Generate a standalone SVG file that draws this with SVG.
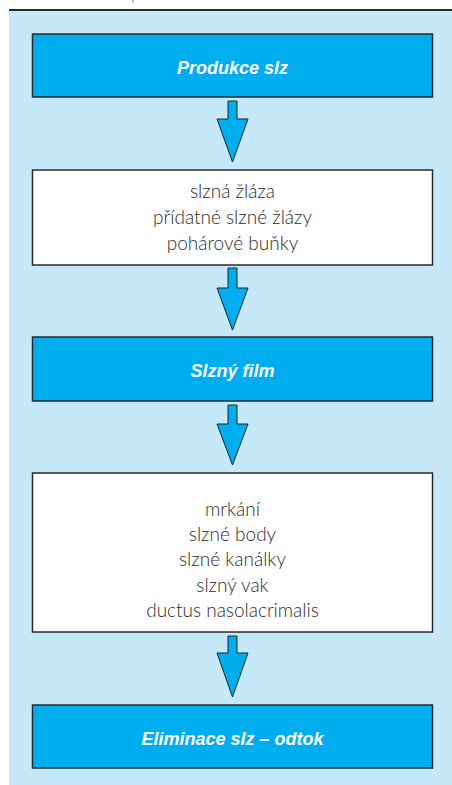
<svg xmlns="http://www.w3.org/2000/svg" width="452" height="785" viewBox="0 0 452 785">
<style>
.bg{fill:#C6E9F9}
.blue{fill:#00AEEF;stroke:#2a2a2a;stroke-width:1.5}
.white{fill:#FFFFFF;stroke:#2a2a2a;stroke-width:1.5}
.arrow{fill:#00AEEF;stroke:#222;stroke-width:1}
.title{font-family:"Liberation Sans",Arial,sans-serif;font-weight:bold;font-style:italic;font-size:18px;fill:#FFFFFF;text-anchor:middle}
.item{font-family:Lato,"Liberation Sans",sans-serif;font-weight:300;font-size:19px;fill:#2b2b2b;text-anchor:middle}
</style>
<rect x="0" y="0" width="452" height="785" fill="#FFFFFF"/>
<line x1="133" y1="0" x2="133" y2="3" stroke="#888" stroke-width="1"/>
<rect class="bg" x="9" y="11" width="443" height="774"/>
<rect x="9" y="9" width="443" height="2" fill="#2a2a2a"/>
<g id="connectors">
<polygon class="arrow" points="228,101 237,101 237,119 248,119 232.5,162 217,119 228,119"/>
<polygon class="arrow" points="228,268 237,268 237,288 248,288 232.5,330 217,288 228,288"/>
<polygon class="arrow" points="228,405 237,405 237,424 248,424 232.5,465 217,424 228,424"/>
<polygon class="arrow" points="228,636 237,636 237,653 248,653 232.5,697 217,653 228,653"/>
</g>
<g id="produkce">
<rect class="blue" x="32.5" y="34" width="400" height="63"/>
<text class="title" x="232.5" y="73.5">Produkce slz</text>
</g>
<g id="zdroje">
<rect class="white" x="32.5" y="170" width="400" height="95"/>
<text class="item" x="232.5" y="198">slzná žláza</text>
<text class="item" x="232.5" y="224">přídatné slzné žlázy</text>
<text class="item" x="232.5" y="250">pohárové buňky</text>
</g>
<g id="film">
<rect class="blue" x="32.5" y="337" width="400" height="64"/>
<text class="title" x="232.5" y="377">Slzný film</text>
</g>
<g id="cesty">
<rect class="white" x="32.5" y="473" width="400" height="159"/>
<text class="item" x="232.5" y="516">mrkání</text>
<text class="item" x="232.5" y="541">slzné body</text>
<text class="item" x="232.5" y="566">slzné kanálky</text>
<text class="item" x="232.5" y="591.5">slzný vak</text>
<text class="item" x="232.5" y="616.5">ductus nasolacrimalis</text>
</g>
<g id="eliminace">
<rect class="blue" x="32.5" y="705" width="400" height="63"/>
<text class="title" x="232.5" y="745">Eliminace slz – odtok</text>
</g>
</svg>
